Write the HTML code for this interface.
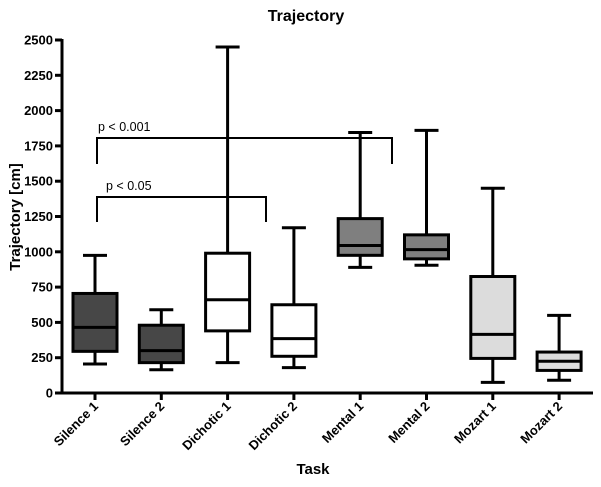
<!DOCTYPE html>
<html><head><meta charset="utf-8"><style>
body{margin:0;background:#fff}
svg text{font-family:"Liberation Sans",Arial,sans-serif}
</style></head><body>
<svg id="chart" width="601" height="482" viewBox="0 0 601 482" xmlns="http://www.w3.org/2000/svg">
<text x="306" y="21" text-anchor="middle" font-size="16" font-weight="bold">Trajectory</text>
<text transform="translate(20,217) rotate(-90)" text-anchor="middle" font-size="15" font-weight="bold">Trajectory [cm]</text>
<text x="313" y="474" text-anchor="middle" font-size="15" font-weight="bold">Task</text>
<g id="axes"></g>
<g id="boxes"></g>
<g id="brackets"></g>
</svg>
<script>
const categories=["Silence 1","Silence 2","Dichotic 1","Dichotic 2","Mental 1","Mental 2","Mozart 1","Mozart 2"];
const mins=[205,165,215,180,890,905,75,90];
const q1s=[295,215,440,260,975,950,245,160];
const medians=[465,300,660,385,1045,1015,415,225];
const q3s=[705,480,990,625,1235,1120,825,290];
const maxs=[975,590,2450,1170,1845,1860,1450,550];
const fills=["#474747","#474747","#ffffff","#ffffff","#7f7f7f","#7f7f7f","#dcdcdc","#dcdcdc"];
const yTicks=[0,250,500,750,1000,1250,1500,1750,2000,2250,2500];
const NS="http://www.w3.org/2000/svg";
const y0=393,y1=40,vmax=2500;
function ys(v){return y0-(v/vmax)*(y0-y1);}
function xs(i){return 95+i*66.3;}
function mk(tag,attrs,parent){const e=document.createElementNS(NS,tag);for(const k in attrs)e.setAttribute(k,attrs[k]);parent.appendChild(e);return e;}
const axes=document.getElementById('axes');
let a=mk('line',{x1:62,y1:ys(0)+1.5,x2:62,y2:ys(2500)-1,stroke:'#000','stroke-width':3},axes);


a=mk('line',{x1:60.5,y1:y0,x2:593,y2:y0,stroke:'#000','stroke-width':3},axes);


yTicks.forEach(v=>{
 const t=mk('line',{x1:55,x2:62,y1:ys(v),y2:ys(v),stroke:'#000','stroke-width':3},axes);
 
 
 const l=mk('text',{x:53,y:ys(v)+4.5,'text-anchor':'end','font-size':13,'font-weight':'bold'},axes);
 l.textContent=v;
 
 
});
const boxes=document.getElementById('boxes');
categories.forEach((c,i)=>{
 const x=xs(i);
 const t=mk('line',{x1:x,x2:x,y1:y0,y2:y0+7,stroke:'#000','stroke-width':3},axes);
 
 
 const l=mk('text',{x:x+4,y:y0+14,'text-anchor':'end','font-size':13,'font-weight':'bold',transform:`rotate(-45 ${x+4} ${y0+14})`},axes);
 l.textContent=c;
 
 
 const g=mk('g',{},boxes);
 
 
 const s={stroke:'#000','stroke-width':3};
 mk('line',Object.assign({x1:x,x2:x,y1:ys(maxs[i]),y2:ys(q3s[i])},s),g);
 mk('line',Object.assign({x1:x,x2:x,y1:ys(q1s[i]),y2:ys(mins[i])},s),g);
 mk('line',Object.assign({x1:x-12,x2:x+12,y1:ys(maxs[i]),y2:ys(maxs[i])},s),g);
 mk('line',Object.assign({x1:x-12,x2:x+12,y1:ys(mins[i]),y2:ys(mins[i])},s),g);
 mk('rect',Object.assign({x:x-22,width:44,y:ys(q3s[i]),height:ys(q1s[i])-ys(q3s[i]),fill:fills[i]},s),g);
 mk('line',Object.assign({x1:x-22,x2:x+22,y1:ys(medians[i]),y2:ys(medians[i])},s),g);
});
const br=document.getElementById('brackets');
function bracket(xa,xb,top,bot,label,lx,name){
 const g=mk('g',{},br);
 
 
 mk('path',{d:`M${xa},${bot} V${top} H${xb} V${bot}`,fill:'none',stroke:'#000','stroke-width':2},g);
 const t=mk('text',{x:lx,y:top-7,'font-size':12.5},g);
 t.textContent=label;
}
bracket(97,392,138,164,"p < 0.001",98,'significance-bracket-p001');
bracket(97,266,197,222,"p < 0.05",106,'significance-bracket-p05');
</script>
</body></html>
